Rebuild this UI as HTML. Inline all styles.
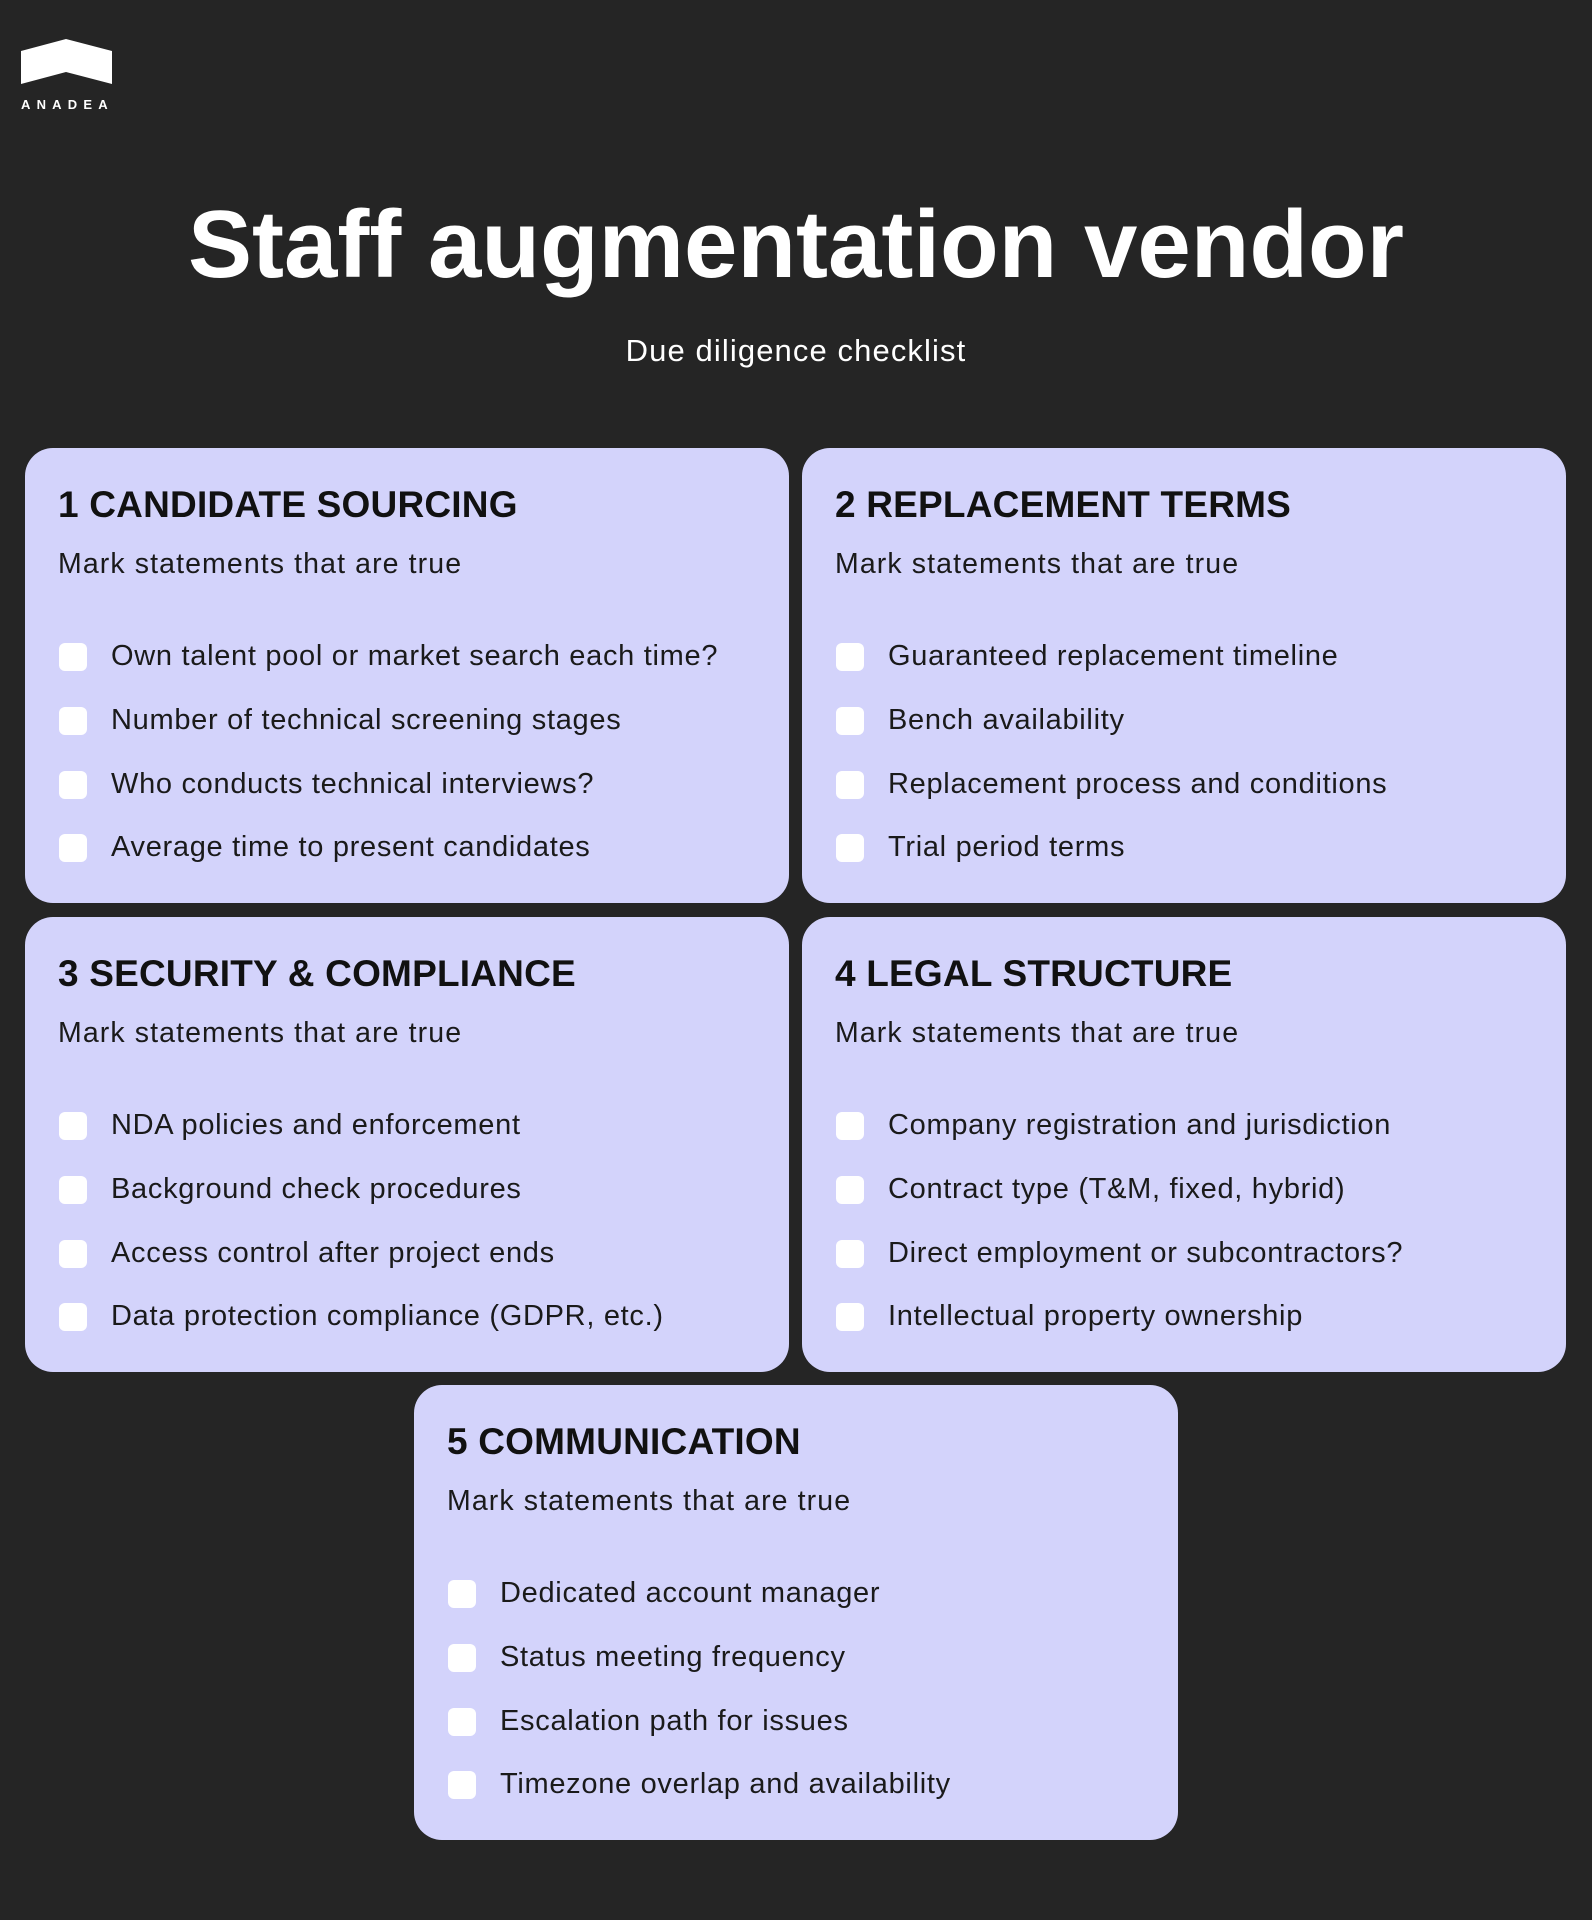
<!DOCTYPE html>
<html><head><meta charset="utf-8"><style>
*{margin:0;padding:0;box-sizing:border-box}
body{width:1592px;height:1920px;background:#252525;position:relative;overflow:hidden;font-family:"Liberation Sans",sans-serif}
.card{position:absolute;width:764px;height:455px;background:#d3d3fb;border-radius:28px}
.t{position:absolute;left:33px;top:36px;font-size:37px;font-weight:bold;color:#111;white-space:nowrap;letter-spacing:0.2px}
.s{position:absolute;left:33px;top:100px;font-size:28.5px;color:#1a1a1a;white-space:nowrap;letter-spacing:1.1px}
.i{position:absolute;left:34px;height:30px;font-size:29px;color:#1a1a1a;white-space:nowrap;line-height:30px;letter-spacing:0.7px}
.i b{position:absolute;left:0;top:1px;width:28px;height:28px;background:#fff;border-radius:6px}
.i span{position:absolute;left:52px;top:-1px}
</style></head><body>
<svg style="position:absolute;left:21px;top:39px" width="91" height="45" viewBox="0 0 91 45"><polygon points="0,12 45,0 91,12 91,45 45,33 0,45" fill="#fff"/></svg>
<div style="position:absolute;left:21px;top:97px;width:92px;font-size:13px;color:#fff;letter-spacing:6.2px;font-weight:bold">ANADEA</div>
<div style="position:absolute;left:0;width:1592px;top:190px;text-align:center;font-size:96px;font-weight:bold;color:#fff;letter-spacing:0px">Staff augmentation vendor</div>
<div style="position:absolute;left:0;width:1592px;top:333px;text-align:center;font-size:31px;color:#fff;letter-spacing:1.1px">Due diligence checklist</div>

<div class="card" style="left:25px;top:448px"><div class="t">1 CANDIDATE SOURCING</div><div class="s">Mark statements that are true</div>
<div class="i" style="top:194px"><b></b><span>Own talent pool or market search each time?</span></div>
<div class="i" style="top:258px"><b></b><span>Number of technical screening stages</span></div>
<div class="i" style="top:322px"><b></b><span>Who conducts technical interviews?</span></div>
<div class="i" style="top:385px"><b></b><span>Average time to present candidates</span></div></div>

<div class="card" style="left:802px;top:448px"><div class="t">2 REPLACEMENT TERMS</div><div class="s">Mark statements that are true</div>
<div class="i" style="top:194px"><b></b><span>Guaranteed replacement timeline</span></div>
<div class="i" style="top:258px"><b></b><span>Bench availability</span></div>
<div class="i" style="top:322px"><b></b><span>Replacement process and conditions</span></div>
<div class="i" style="top:385px"><b></b><span>Trial period terms</span></div></div>

<div class="card" style="left:25px;top:917px"><div class="t">3 SECURITY &amp; COMPLIANCE</div><div class="s">Mark statements that are true</div>
<div class="i" style="top:194px"><b></b><span>NDA policies and enforcement</span></div>
<div class="i" style="top:258px"><b></b><span>Background check procedures</span></div>
<div class="i" style="top:322px"><b></b><span>Access control after project ends</span></div>
<div class="i" style="top:385px"><b></b><span>Data protection compliance (GDPR, etc.)</span></div></div>

<div class="card" style="left:802px;top:917px"><div class="t">4 LEGAL STRUCTURE</div><div class="s">Mark statements that are true</div>
<div class="i" style="top:194px"><b></b><span>Company registration and jurisdiction</span></div>
<div class="i" style="top:258px"><b></b><span>Contract type (T&amp;M, fixed, hybrid)</span></div>
<div class="i" style="top:322px"><b></b><span>Direct employment or subcontractors?</span></div>
<div class="i" style="top:385px"><b></b><span>Intellectual property ownership</span></div></div>

<div class="card" style="left:414px;top:1385px"><div class="t">5 COMMUNICATION</div><div class="s">Mark statements that are true</div>
<div class="i" style="top:194px"><b></b><span>Dedicated account manager</span></div>
<div class="i" style="top:258px"><b></b><span>Status meeting frequency</span></div>
<div class="i" style="top:322px"><b></b><span>Escalation path for issues</span></div>
<div class="i" style="top:385px"><b></b><span>Timezone overlap and availability</span></div></div>
</body></html>
